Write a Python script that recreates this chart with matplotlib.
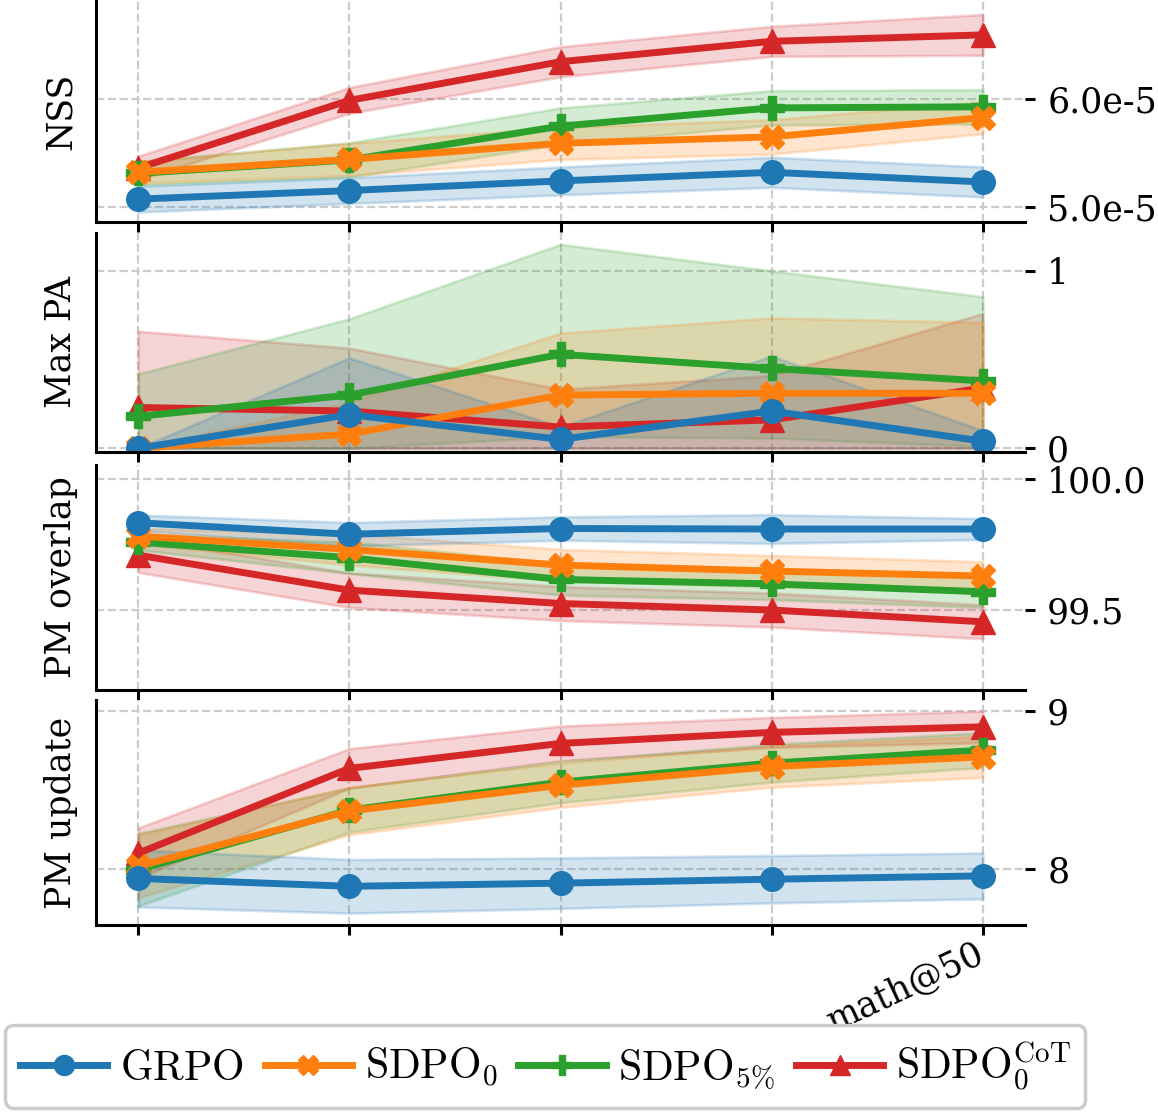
import numpy as np
import matplotlib
matplotlib.use("Agg")
import matplotlib.pyplot as plt
import matplotlib.transforms as mtransforms

plt.rcParams['font.family'] = 'serif'
plt.rcParams['font.size'] = 25
plt.rcParams['mathtext.fontset'] = 'cm'

# x axis: five checkpoints, only the last one labelled
x_labels = ['', '', '', '', 'math@50']
x = np.arange(len(x_labels))

methods = [r'$\mathrm{GRPO}$', r'$\mathrm{SDPO}_0$', r'$\mathrm{SDPO}_{5\%}$',
           r'$\mathrm{SDPO}_0^{\mathrm{CoT}}$']
colors = ['#1f77b4', '#ff7f0e', '#2ca02c', '#d62728']
markers = ['o', 'X', 'P', '^']

# NSS (mean, std)
nss_grpo = [5.07e-5, 5.15e-5, 5.24e-5, 5.32e-5, 5.23e-5]
nss_grpo_sd = [0.12e-5, 0.12e-5, 0.13e-5, 0.14e-5, 0.14e-5]
nss_sdpo0 = [5.32e-5, 5.44e-5, 5.59e-5, 5.65e-5, 5.83e-5]
nss_sdpo0_sd = [0.10e-5, 0.15e-5, 0.15e-5, 0.16e-5, 0.15e-5]
nss_sdpo5 = [5.31e-5, 5.435e-5, 5.75e-5, 5.92e-5, 5.93e-5]
nss_sdpo5_sd = [0.11e-5, 0.16e-5, 0.17e-5, 0.16e-5, 0.16e-5]
nss_cot = [5.36e-5, 5.99e-5, 6.35e-5, 6.54e-5, 6.60e-5]
nss_cot_sd = [0.11e-5, 0.12e-5, 0.14e-5, 0.14e-5, 0.19e-5]

# Max PA (mean, lower, upper)
pa_grpo = [0.0, 0.19, 0.05, 0.21, 0.04]
pa_grpo_lo = [0.0, 0.0, 0.0, 0.0, 0.0]
pa_grpo_hi = [0.0, 0.51, 0.12, 0.52, 0.10]
pa_sdpo0 = [0.0, 0.08, 0.30, 0.31, 0.31]
pa_sdpo0_lo = [0.0, 0.0, 0.0, 0.0, 0.0]
pa_sdpo0_hi = [0.0, 0.26, 0.65, 0.735, 0.71]
pa_sdpo5 = [0.18, 0.30, 0.53, 0.45, 0.38]
pa_sdpo5_lo = [0.0, 0.0, 0.065, 0.058, 0.01]
pa_sdpo5_hi = [0.42, 0.73, 1.15, 1.0, 0.855]
pa_cot = [0.23, 0.21, 0.12, 0.16, 0.34]
pa_cot_lo = [0.0, 0.0, 0.0, 0.0, 0.0]
pa_cot_hi = [0.66, 0.565, 0.333, 0.41, 0.76]

# PM overlap (mean, std)
ov_grpo = [99.834, 99.79, 99.812, 99.81, 99.81]
ov_grpo_sd = [0.03, 0.045, 0.045, 0.055, 0.04]
ov_sdpo0 = [99.783, 99.732, 99.672, 99.649, 99.63]
ov_sdpo0_sd = [0.03, 0.06, 0.06, 0.06, 0.055]
ov_sdpo5 = [99.76, 99.70, 99.617, 99.60, 99.57]
ov_sdpo5_sd = [0.03, 0.06, 0.06, 0.06, 0.06]
ov_cot = [99.71, 99.576, 99.525, 99.50, 99.455]
ov_cot_sd = [0.066, 0.066, 0.065, 0.065, 0.065]

# PM update (mean, std)
up_grpo = [7.94, 7.89, 7.91, 7.935, 7.956]
up_grpo_sd = [0.18, 0.17, 0.16, 0.15, 0.145]
up_sdpo0 = [8.017, 8.367, 8.53, 8.648, 8.71]
up_sdpo0_sd = [0.20, 0.15, 0.14, 0.13, 0.13]
up_sdpo5 = [7.995, 8.373, 8.55, 8.67, 8.753]
up_sdpo5_sd = [0.23, 0.14, 0.13, 0.12, 0.11]
up_cot = [8.10, 8.637, 8.795, 8.865, 8.90]
up_cot_sd = [0.16, 0.125, 0.11, 0.095, 0.10]

ylabels = ['NSS', 'Max PA', 'PM overlap', 'PM update']
yticks = [[5e-5, 6e-5], [0, 1], [99.5, 100.0], [8, 9]]
ytick_labels = [['5.0e-5', '6.0e-5'], ['0', '1'], ['99.5', '100.0'], ['8', '9']]
ylims = [(4.857e-5, 6.925e-5), (-0.021, 1.214), (99.194, 100.055), (7.645, 9.07)]


def band(mean, sd):
    m = np.array(mean)
    s = np.array(sd)
    return m, m - s, m + s


panels = [
    [band(nss_grpo, nss_grpo_sd), band(nss_sdpo0, nss_sdpo0_sd),
     band(nss_sdpo5, nss_sdpo5_sd), band(nss_cot, nss_cot_sd)],
    [(pa_grpo, pa_grpo_lo, pa_grpo_hi), (pa_sdpo0, pa_sdpo0_lo, pa_sdpo0_hi),
     (pa_sdpo5, pa_sdpo5_lo, pa_sdpo5_hi), (pa_cot, pa_cot_lo, pa_cot_hi)],
    [band(ov_grpo, ov_grpo_sd), band(ov_sdpo0, ov_sdpo0_sd),
     band(ov_sdpo5, ov_sdpo5_sd), band(ov_cot, ov_cot_sd)],
    [band(up_grpo, up_grpo_sd), band(up_sdpo0, up_sdpo0_sd),
     band(up_sdpo5, up_sdpo5_sd), band(up_cot, up_cot_sd)],
]

W, H = 1158, 1112
fig = plt.figure(figsize=(W / 100, H / 100), dpi=100)
# panel extents in pixels (top, bottom)
spans = [(0, 222), (233, 452), (465, 690), (700, 925)]
axes = []
for top, bot in spans:
    ax = fig.add_axes([96 / W, 1 - bot / H, (1025 - 96) / W, (bot - top) / H],
                      sharex=axes[0] if axes else None)
    axes.append(ax)

handles = {}
for ax, data, yl, yt, ytl, lim in zip(axes, panels, ylabels, yticks, ytick_labels, ylims):
    # draw red first so GRPO ends up on top
    for i in reversed(range(4)):
        mean, lo, hi = data[i]
        ax.fill_between(x, lo, hi, color=colors[i], alpha=0.2, linewidth=2)
        line, = ax.plot(x, mean, color=colors[i], marker=markers[i], lw=5, ms=17)
        handles[i] = line
    ax.set_ylabel(yl, labelpad=13)
    ax.set_ylim(lim)
    ax.set_yticks(yt)
    ax.set_yticklabels(ytl)
    ax.yaxis.tick_right()
    ax.spines['top'].set_visible(False)
    ax.spines['right'].set_visible(False)
    ax.spines['left'].set_linewidth(2.2)
    ax.spines['bottom'].set_linewidth(2.2)
    ax.tick_params(axis='y', length=7, width=2.2, pad=9)
    ax.tick_params(axis='x', length=7, width=2.2)
    ax.grid(True, ls='--', color='#cccccc', lw=1.6)
    ax.set_axisbelow(True)

for ax in axes[:-1]:
    ax.tick_params(axis='x', labelbottom=False)

axes[-1].set_xticks(x)
axes[-1].set_xticklabels(x_labels, rotation=25, ha='right', rotation_mode='anchor')
axes[-1].tick_params(axis='x', pad=4)
# nudge the rotated label a little up and left
shift = mtransforms.ScaledTranslation(-8 / 100, 4 / 100, fig.dpi_scale_trans)
for lab in axes[-1].get_xticklabels():
    lab.set_transform(lab.get_transform() + shift)

leg = fig.legend([handles[i] for i in range(4)], methods, loc='lower center',
                 bbox_to_anchor=(0.471, 0.004), borderaxespad=0, ncol=4, fontsize=30,
                 handlelength=2.1, handletextpad=0.3, columnspacing=0.5,
                 markerscale=0.85, framealpha=1, edgecolor='#cccccc', borderpad=0.35)
leg.get_frame().set_linewidth(2.5)

plt.savefig('out.png', dpi=100)
